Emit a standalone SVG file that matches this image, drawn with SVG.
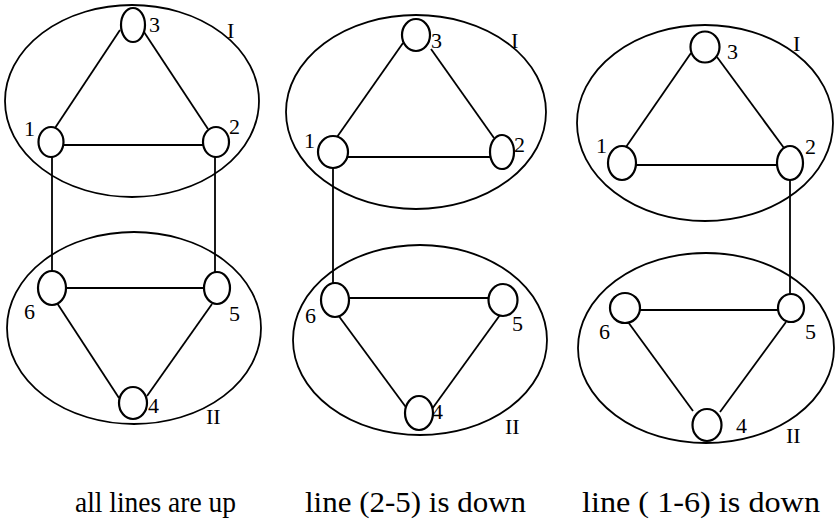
<svg xmlns="http://www.w3.org/2000/svg" width="835" height="526" viewBox="0 0 835 526">
<style>
.cl{fill:none;stroke:#000;stroke-width:1.8}
.nd{fill:#fff;stroke:#000;stroke-width:2.2}
.ed{stroke:#000;stroke-width:1.8;fill:none}
.lb{font-family:"Liberation Serif","Times New Roman",serif;font-size:22px;fill:#000}
.cap{font-family:"Liberation Serif","Times New Roman",serif;font-size:30px;fill:#000}
</style>
<rect width="835" height="526" fill="#fff"/>
<g id="clusters">
<g id="p1-I"><ellipse class="cl" cx="132" cy="101" rx="127" ry="96"/><text class="lb" x="227" y="38">I</text></g>
<g id="p1-II"><ellipse class="cl" cx="134" cy="328" rx="127" ry="96"/><text class="lb" x="206" y="424">II</text></g>
<g id="p2-I"><ellipse class="cl" cx="416" cy="112" rx="130" ry="97"/><text class="lb" x="511" y="48">I</text></g>
<g id="p2-II"><ellipse class="cl" cx="420" cy="340" rx="127" ry="95"/><text class="lb" x="505" y="434">II</text></g>
<g id="p3-I"><ellipse class="cl" cx="705" cy="123" rx="128" ry="98"/><text class="lb" x="793" y="51">I</text></g>
<g id="p3-II"><ellipse class="cl" cx="706" cy="348" rx="128" ry="95"/><text class="lb" x="786" y="443">II</text></g>
</g>
<g id="connectors">
<line class="ed" x1="63" y1="145" x2="203" y2="145"/>
<line class="ed" x1="55" y1="128" x2="120" y2="30"/>
<line class="ed" x1="144" y1="32" x2="208" y2="129"/>
<line class="ed" x1="52" y1="157" x2="52" y2="271"/>
<line class="ed" x1="215" y1="157" x2="215" y2="272"/>
<line class="ed" x1="66" y1="288" x2="204" y2="288"/>
<line class="ed" x1="57" y1="303" x2="119" y2="398"/>
<line class="ed" x1="212" y1="304" x2="147" y2="396"/>
<line class="ed" x1="348" y1="157" x2="490" y2="157"/>
<line class="ed" x1="337" y1="137" x2="403" y2="43"/>
<line class="ed" x1="431" y1="49" x2="494" y2="138"/>
<line class="ed" x1="333" y1="168" x2="333" y2="283"/>
<line class="ed" x1="349" y1="298" x2="489" y2="298"/>
<line class="ed" x1="338" y1="315" x2="408" y2="410"/>
<line class="ed" x1="500" y1="315" x2="432" y2="409"/>
<line class="ed" x1="636" y1="165" x2="777" y2="165"/>
<line class="ed" x1="626" y1="147" x2="691" y2="53"/>
<line class="ed" x1="717" y1="57" x2="784" y2="148"/>
<line class="ed" x1="790" y1="180" x2="790" y2="294"/>
<line class="ed" x1="640" y1="310" x2="778" y2="310"/>
<line class="ed" x1="628" y1="322" x2="693" y2="411"/>
<line class="ed" x1="786" y1="322" x2="720" y2="412"/>
</g>
<g id="p1-n3"><ellipse class="nd" cx="133" cy="25" rx="12" ry="17"/><text class="lb" x="149" y="32">3</text></g>
<g id="p1-n1"><ellipse class="nd" cx="51" cy="142" rx="12.5" ry="15"/><text class="lb" x="24" y="136">1</text></g>
<g id="p1-n2"><ellipse class="nd" cx="216" cy="142" rx="13" ry="15"/><text class="lb" x="229" y="134">2</text></g>
<g id="p1-n6"><ellipse class="nd" cx="52" cy="288" rx="14" ry="17"/><text class="lb" x="24" y="319">6</text></g>
<g id="p1-n5"><ellipse class="nd" cx="217" cy="288" rx="13" ry="16"/><text class="lb" x="229" y="321">5</text></g>
<g id="p1-n4"><ellipse class="nd" cx="133" cy="403" rx="14" ry="16"/><text class="lb" x="148" y="413">4</text></g>
<g id="p2-n3"><ellipse class="nd" cx="416" cy="35" rx="14" ry="16"/><text class="lb" x="431" y="48">3</text></g>
<g id="p2-n1"><ellipse class="nd" cx="333" cy="152" rx="15" ry="16"/><text class="lb" x="304" y="148">1</text></g>
<g id="p2-n2"><ellipse class="nd" cx="502" cy="152" rx="12" ry="17"/><text class="lb" x="514" y="152">2</text></g>
<g id="p2-n6"><ellipse class="nd" cx="335" cy="300" rx="14" ry="17"/><text class="lb" x="305" y="323">6</text></g>
<g id="p2-n5"><ellipse class="nd" cx="503" cy="300" rx="14.5" ry="16"/><text class="lb" x="512" y="331">5</text></g>
<g id="p2-n4"><ellipse class="nd" cx="419" cy="413" rx="14" ry="17"/><text class="lb" x="432" y="419">4</text></g>
<g id="p3-n3"><ellipse class="nd" cx="705" cy="47" rx="14.5" ry="15.5"/><text class="lb" x="727" y="59">3</text></g>
<g id="p3-n1"><ellipse class="nd" cx="622" cy="163" rx="14" ry="17"/><text class="lb" x="596" y="153">1</text></g>
<g id="p3-n2"><ellipse class="nd" cx="790" cy="163" rx="13" ry="17"/><text class="lb" x="805" y="154">2</text></g>
<g id="p3-n6"><ellipse class="nd" cx="625" cy="308" rx="15" ry="15"/><text class="lb" x="599" y="339">6</text></g>
<g id="p3-n5"><ellipse class="nd" cx="791" cy="308" rx="13" ry="14"/><text class="lb" x="805" y="339">5</text></g>
<g id="p3-n4"><ellipse class="nd" cx="707" cy="425" rx="14.5" ry="16"/><text class="lb" x="736" y="433">4</text></g>
<g id="captions">
<text class="cap" x="75" y="512" textLength="161" lengthAdjust="spacingAndGlyphs">all lines are up</text>
<text class="cap" x="305" y="512" textLength="221" lengthAdjust="spacingAndGlyphs">line (2-5) is down</text>
<text class="cap" x="582" y="512" textLength="238" lengthAdjust="spacingAndGlyphs">line ( 1-6) is down</text>
</g>
</svg>
